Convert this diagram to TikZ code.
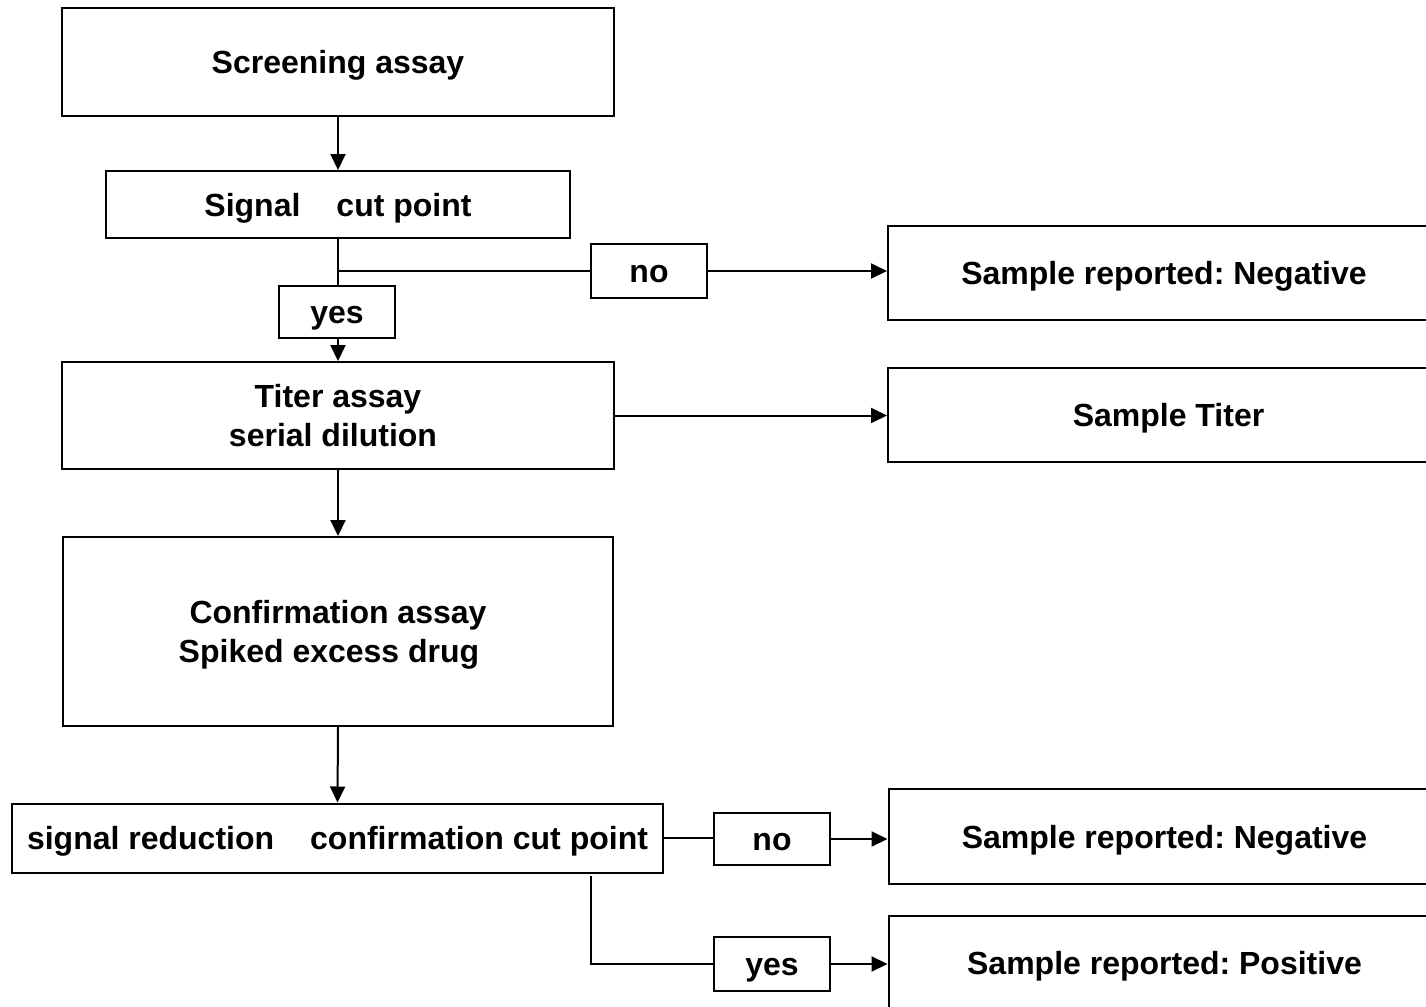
\documentclass[tikz,border=0pt]{standalone}
\usepackage{fontspec}
\setmainfont{Liberation Sans}
\usetikzlibrary{arrows.meta}
\begin{document}
\frenchspacing
\begin{tikzpicture}[x=0.5pt,y=-0.5pt,
  every node/.style={font=\fontsize{16}{19.5}\selectfont\bfseries},
  box/.style={draw,line width=1pt,rectangle,inner sep=0pt,align=center,text height=11.5pt,text depth=0pt},
  twoline/.style={text height=31pt},
  conn/.style={line width=1pt},
  arr/.style={line width=1pt,-{Triangle[length=8pt,width=7.5pt]}}]
\useasboundingbox (0,0) rectangle (1426,1007);
\node[box,minimum width=276pt,minimum height=54pt] (scr) at (338,62) {Screening assay};
\node[box,minimum width=232pt,minimum height=33.5pt] (sig) at (338,204.5) {Signal\hspace{18pt}cut point};
\node[box,minimum width=58pt,minimum height=27pt] (no1) at (649,271) {no};
\node[box,minimum width=276pt,minimum height=47pt] (neg1) at (1164,273) {Sample reported: Negative};
\node[box,minimum width=58pt,minimum height=26pt] (yes1) at (337,312) {yes};
\node[box,twoline,minimum width=276pt,minimum height=53.5pt] (tit) at (338,415.5) {Titer assay\\serial dilution\hspace*{5pt}};
\node[box,minimum width=276pt,minimum height=47pt] (stit) at (1164,415) {\hspace*{4.5pt}Sample Titer};
\node[box,twoline,minimum width=275pt,minimum height=94.5pt] (conf) at (338,631.5) {Confirmation assay\\Spiked excess drug\hspace*{9pt}};
\node[box,minimum width=325.5pt,minimum height=34.5pt] (bot) at (337.5,838) {signal reduction\hspace{18pt}confirmation cut point};
\node[box,minimum width=58pt,minimum height=26pt] (no2) at (772,839) {no};
\node[box,minimum width=276pt,minimum height=47.5pt] (neg2) at (1164.5,836.5) {Sample reported: Negative};
\node[box,minimum width=58pt,minimum height=27pt] (yes2) at (772,964) {yes};
\node[box,minimum width=276pt,minimum height=47pt] (pos) at (1164.5,963) {Sample reported: Positive};
\coordinate (br) at (338,271);
\coordinate (c1) at (591,876);
\draw[arr] (scr.south) -- (sig.north);
\draw[conn] (sig.south) -- (sig.south |- yes1.north);
\draw[conn] (br) -- (no1.west);
\draw[arr] (no1.east) -- (no1.east -| neg1.west);
\draw[arr] (sig.south |- yes1.south) -- (tit.north);
\draw[arr] (tit.east) -- (tit.east -| stit.west);
\draw[arr] (tit.south) -- (conf.north);
\draw[arr] (conf.south) -- (bot.north);
\draw[conn] (bot.east) -- (bot.east -| no2.west);
\draw[arr] (no2.east) -- (no2.east -| neg2.west);
\draw[conn] (c1) |- (yes2.west);
\draw[arr] (yes2.east) -- (yes2.east -| pos.west);
\end{tikzpicture}
\end{document}
